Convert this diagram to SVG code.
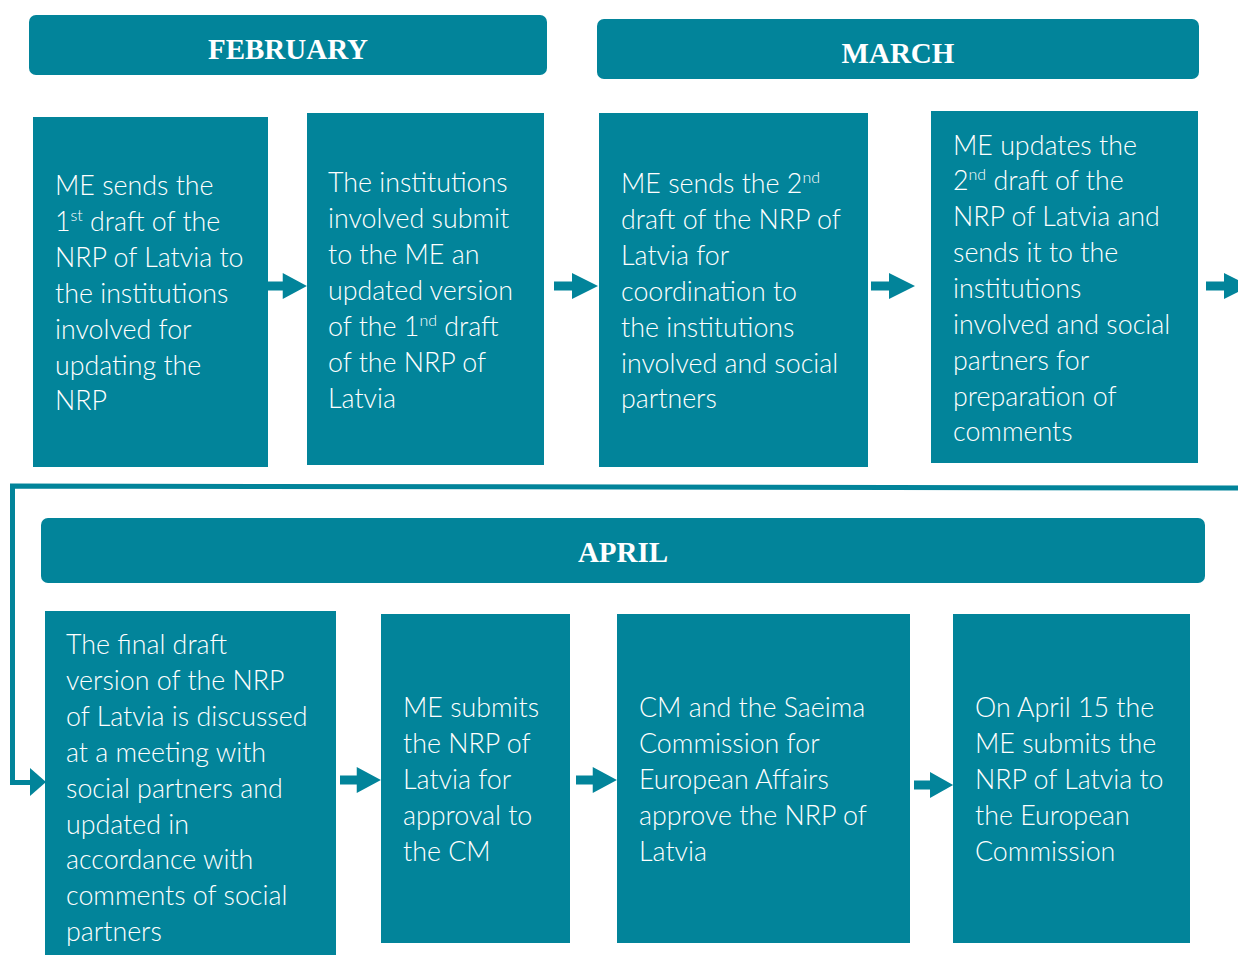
<svg xmlns="http://www.w3.org/2000/svg" width="1238" height="955" viewBox="0 0 1238 955">
<style>
.bg{fill:#ffffff}
.hdr{fill:#02849A}
.box{fill:#02849A}
.ht{font-family:"Liberation Serif",serif;font-weight:bold;font-size:29px;fill:#ffffff;text-anchor:middle}
.t{font-family:Lato,"Open Sans",sans-serif;font-weight:300;font-size:26.8px;fill:#ffffff}
.sup{font-size:16px}
.arr{fill:#02849A}
.line{fill:none;stroke:#02849A;stroke-width:5}
</style>
<defs>
<path id="ar" d="M0,-4.5 H18 V-13 L44,0 L18,13 V4.5 H0 Z"/>
</defs>
<rect class="bg" width="1238" height="955"/>
<g id="feb"><rect class="hdr" x="29" y="15" width="518" height="60" rx="7"/><text class="ht" x="288" y="59">FEBRUARY</text></g>
<g id="march"><rect class="hdr" x="597" y="19" width="602" height="60" rx="7"/><text class="ht" x="898" y="63">MARCH</text></g>
<g id="april"><rect class="hdr" x="41" y="518" width="1164" height="65" rx="7"/><text class="ht" x="623" y="562">APRIL</text></g>

<g id="connectors">
<use href="#ar" class="arr" transform="translate(266,286) scale(0.93,1)"/>
<use href="#ar" class="arr" transform="translate(554,286)"/>
<use href="#ar" class="arr" transform="translate(871,286)"/>
<use href="#ar" class="arr" transform="translate(1206,286)"/>
<polyline class="line" points="1238,488 12.5,486 12.5,782.5 32,782.5"/>
<polygon class="arr" points="30,768 46,782 30,796"/>
<use href="#ar" class="arr" transform="translate(340,780) scale(0.93,1)"/>
<use href="#ar" class="arr" transform="translate(576,780) scale(0.93,1)"/>
<use href="#ar" class="arr" transform="translate(914,785) scale(0.89,1)"/>
</g>

<g id="n1"><rect class="box" x="33" y="117" width="235" height="350"/>
<text class="t" x="55"><tspan x="55" y="195">ME sends the</tspan><tspan x="55" y="231">1<tspan class="sup" dy="-10">st</tspan><tspan dy="10"> draft of the</tspan></tspan><tspan x="55" y="267">NRP of Latvia to</tspan><tspan x="55" y="303">the institutions</tspan><tspan x="55" y="339">involved for</tspan><tspan x="55" y="375">updating the</tspan><tspan x="55" y="410">NRP</tspan></text></g>

<g id="n2"><rect class="box" x="307" y="113" width="237" height="352"/>
<text class="t"><tspan x="328" y="192">The institutions</tspan><tspan x="328" y="228">involved submit</tspan><tspan x="328" y="264">to the ME an</tspan><tspan x="328" y="300">updated version</tspan><tspan x="328" y="336">of the 1<tspan class="sup" dy="-10">nd</tspan><tspan dy="10"> draft</tspan></tspan><tspan x="328" y="372">of the NRP of</tspan><tspan x="328" y="408">Latvia</tspan></text></g>

<g id="n3"><rect class="box" x="599" y="113" width="269" height="354"/>
<text class="t"><tspan x="621" y="193">ME sends the 2<tspan class="sup" dy="-10">nd</tspan></tspan><tspan x="621" y="229">draft of the NRP of</tspan><tspan x="621" y="265">Latvia for</tspan><tspan x="621" y="301">coordination to</tspan><tspan x="621" y="337">the institutions</tspan><tspan x="621" y="373">involved and social</tspan><tspan x="621" y="408">partners</tspan></text></g>

<g id="n4"><rect class="box" x="931" y="111" width="267" height="352"/>
<text class="t"><tspan x="953" y="155">ME updates the</tspan><tspan x="953" y="190">2<tspan class="sup" dy="-10">nd</tspan><tspan dy="10"> draft of the</tspan></tspan><tspan x="953" y="226">NRP of Latvia and</tspan><tspan x="953" y="262">sends it to the</tspan><tspan x="953" y="298">institutions</tspan><tspan x="953" y="334">involved and social</tspan><tspan x="953" y="370">partners for</tspan><tspan x="953" y="406">preparation of</tspan><tspan x="953" y="441">comments</tspan></text></g>

<g id="n5"><rect class="box" x="45" y="611" width="291" height="344"/>
<text class="t"><tspan x="66" y="654">The final draft</tspan><tspan x="66" y="690">version of the NRP</tspan><tspan x="66" y="726">of Latvia is discussed</tspan><tspan x="66" y="762">at a meeting with</tspan><tspan x="66" y="798">social partners and</tspan><tspan x="66" y="834">updated in</tspan><tspan x="66" y="869">accordance with</tspan><tspan x="66" y="905">comments of social</tspan><tspan x="66" y="941">partners</tspan></text></g>

<g id="n6"><rect class="box" x="381" y="614" width="189" height="329"/>
<text class="t"><tspan x="403" y="717">ME submits</tspan><tspan x="403" y="753">the NRP of</tspan><tspan x="403" y="789">Latvia for</tspan><tspan x="403" y="825">approval to</tspan><tspan x="403" y="861">the CM</tspan></text></g>

<g id="n7"><rect class="box" x="617" y="614" width="293" height="329"/>
<text class="t"><tspan x="639" y="717">CM and the Saeima</tspan><tspan x="639" y="753">Commission for</tspan><tspan x="639" y="789">European Affairs</tspan><tspan x="639" y="825">approve the NRP of</tspan><tspan x="639" y="861">Latvia</tspan></text></g>

<g id="n8"><rect class="box" x="953" y="614" width="237" height="329"/>
<text class="t"><tspan x="975" y="717">On April 15 the</tspan><tspan x="975" y="753">ME submits the</tspan><tspan x="975" y="789">NRP of Latvia to</tspan><tspan x="975" y="825">the European</tspan><tspan x="975" y="861">Commission</tspan></text></g>
</svg>
